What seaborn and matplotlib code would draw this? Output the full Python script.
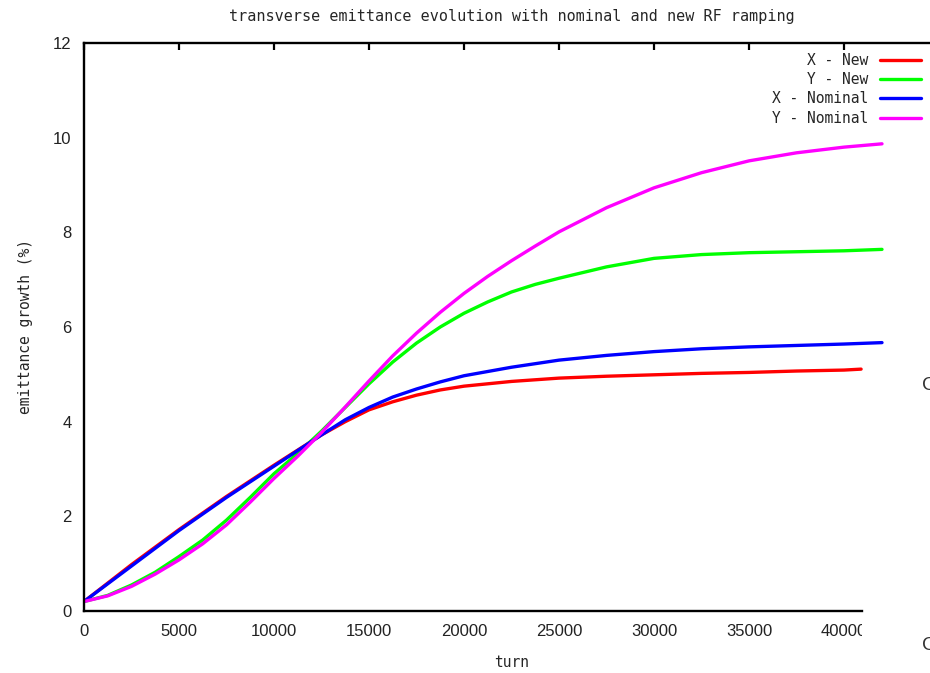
import matplotlib
matplotlib.use("Agg")
import matplotlib.pyplot as plt
from matplotlib.patches import Rectangle
import seaborn as sns
import pandas as pd

# Emittance growth (%) versus turn for each plane and RF ramp
x_new_turn = [0, 2500, 5000, 7500, 10000, 12500, 13750, 15000, 16250, 17500,
              18750, 20000, 22500, 25000, 27500, 30000, 32500, 35000, 37500,
              40000, 40900]
x_new_val = [0.2, 0.98, 1.72, 2.42, 3.08, 3.72, 4.0, 4.25, 4.42, 4.56,
             4.67, 4.75, 4.85, 4.92, 4.96, 4.99, 5.02, 5.04, 5.07,
             5.09, 5.11]

y_new_turn = [0, 1250, 2500, 3750, 5000, 6250, 7500, 8750, 10000, 11250,
              12500, 13750, 15000, 16250, 17500, 18750, 20000, 21250, 22500,
              23750, 25000, 27500, 30000, 32500, 35000, 37500, 40000, 42000]
y_new_val = [0.2, 0.33, 0.55, 0.82, 1.15, 1.5, 1.92, 2.4, 2.9, 3.33,
             3.8, 4.3, 4.8, 5.26, 5.66, 6.0, 6.29, 6.53, 6.74,
             6.9, 7.03, 7.27, 7.45, 7.53, 7.57, 7.59, 7.61, 7.64]

x_nom_turn = [0, 2500, 5000, 7500, 10000, 12500, 13750, 15000, 16250, 17500,
              18750, 20000, 22500, 25000, 27500, 30000, 32500, 35000, 37500,
              40000, 42000]
x_nom_val = [0.2, 0.95, 1.70, 2.40, 3.06, 3.72, 4.04, 4.3, 4.52, 4.69,
             4.84, 4.97, 5.15, 5.30, 5.40, 5.48, 5.54, 5.58, 5.61,
             5.64, 5.67]

y_nom_turn = [0, 1250, 2500, 3750, 5000, 6250, 7500, 8750, 10000, 11250,
              12500, 13750, 15000, 16250, 17500, 18750, 20000, 21250, 22500,
              23750, 25000, 27500, 30000, 32500, 35000, 37500, 40000, 42000]
y_nom_val = [0.2, 0.32, 0.52, 0.78, 1.08, 1.42, 1.82, 2.3, 2.8, 3.27,
             3.77, 4.31, 4.86, 5.39, 5.87, 6.31, 6.71, 7.07, 7.40,
             7.71, 8.01, 8.52, 8.94, 9.26, 9.51, 9.68, 9.80, 9.87]

series_names = ["X - New", "Y - New", "X - Nominal", "Y - Nominal"]
series_colors = ["#ff0000", "#00ff00", "#0000ff", "#ff00ff"]

x_ticks = [0, 5000, 10000, 15000, 20000, 25000, 30000, 35000, 40000]
y_ticks = [0, 2, 4, 6, 8, 10, 12]

frames = []
for name, t, v in zip(series_names,
                      [x_new_turn, y_new_turn, x_nom_turn, y_nom_turn],
                      [x_new_val, y_new_val, x_nom_val, y_nom_val]):
    frames.append(pd.DataFrame({"turn": t, "growth": v, "series": name}))
df = pd.concat(frames, ignore_index=True)

sns.set_style("white")
plt.rcParams["font.family"] = ["DejaVu Sans Mono", "DejaVu Sans"]

W, H = 930, 673
fig = plt.figure(figsize=(W / 100, H / 100), dpi=100)
ax_left, ax_right, ax_top, ax_bottom = 84, 939, 43, 611
ax = fig.add_axes([ax_left / W, (H - ax_bottom) / H,
                   (ax_right - ax_left) / W, (ax_bottom - ax_top) / H])

sns.lineplot(data=df, x="turn", y="growth", hue="series",
             hue_order=series_names, palette=series_colors,
             linewidth=2.4, sort=False, estimator=None, ax=ax, legend=True)

ax.set_xlim(0, 45000)
ax.set_ylim(0, 12)
ax.set_xticks(x_ticks)
ax.set_yticks(y_ticks)
ax.set_xticklabels([str(t) for t in x_ticks], family="Liberation Sans", fontsize=12)
ax.set_yticklabels([str(t) for t in y_ticks], family="Liberation Sans", fontsize=12)
ax.tick_params(direction="in", length=5, width=1.6, top=True, right=False,
               pad=9, colors="black", labelcolor="#222222")

for side in ["left", "bottom", "top", "right"]:
    ax.spines[side].set_linewidth(1.7)
    ax.spines[side].set_color("black")
ax.spines["bottom"].set_bounds(0, (862 - ax_left) / (ax_right - ax_left) * 45000)

ax.set_xlabel("turn", fontsize=10.5, labelpad=12)
ax.set_ylabel("emittance growth (%)", fontsize=10.5, labelpad=14)
ax.set_title("transverse emittance evolution with nominal and new RF ramping",
             fontsize=10.9, pad=16)

leg = ax.legend(loc="upper right", bbox_to_anchor=(921 / W, (H - 53) / H),
                bbox_transform=fig.transFigure, frameon=False,
                markerfirst=False, handlelength=2.8, handletextpad=0.8,
                labelspacing=0.29, borderpad=0, borderaxespad=0,
                prop={"family": "DejaVu Sans Mono", "size": 10.5})
for line in leg.get_lines():
    line.set_linewidth(2.4)

# blank strip under the right end of the frame
fig.add_artist(Rectangle((862 / W, 0), 1 - 862 / W, (H - 613) / H,
                         transform=fig.transFigure, facecolor="white",
                         edgecolor="none", zorder=10))
for yp in (385, 645):
    fig.text(922 / W, (H - yp) / H, "C", fontsize=14, color="#333333",
             family="Liberation Sans", va="center", ha="left", zorder=11)

fig.savefig("out.png", dpi=100)
